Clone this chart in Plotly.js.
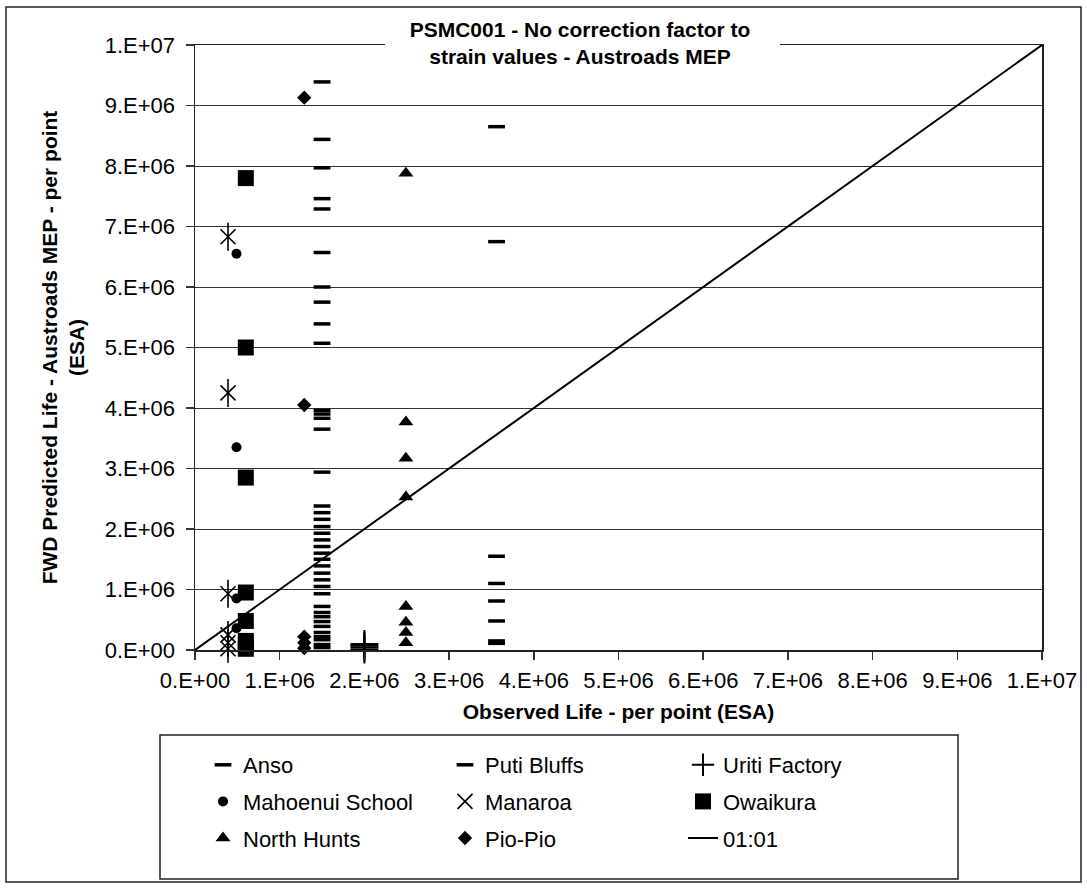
<!DOCTYPE html>
<html>
<head>
<meta charset="utf-8">
<script src="https://cdn.plot.ly/plotly-3.0.1.min.js"></script>
<style>
html,body{margin:0;padding:0;background:#fff;}
#chart{width:1087px;height:888px;}
</style>
</head>
<body>
<div id="chart"></div>
<script>
// ---- data ----
const tickValues = [0,1e6,2e6,3e6,4e6,5e6,6e6,7e6,8e6,9e6,1e7];
const tickLabels = ['0.E+00','1.E+06','2.E+06','3.E+06','4.E+06','5.E+06','6.E+06','7.E+06','8.E+06','9.E+06','1.E+07'];

const ansoX = [1.5e6,1.5e6,1.5e6,1.5e6,1.5e6,1.5e6,1.5e6,1.5e6,1.5e6,1.5e6,1.5e6,1.5e6,1.5e6,1.5e6,1.5e6,1.5e6,1.5e6,1.5e6,1.5e6,1.5e6,1.5e6,1.5e6,1.5e6,1.5e6,1.5e6,1.5e6,1.5e6,1.5e6,1.5e6,1.5e6,1.5e6,1.5e6,1.5e6,1.5e6,1.5e6,1.5e6,1.5e6,1.5e6,1.5e6];
const ansoY = [9.39e6,8.44e6,7.97e6,7.46e6,7.29e6,6.57e6,6.0e6,5.75e6,5.39e6,5.07e6,3.96e6,3.9e6,3.83e6,3.65e6,2.94e6,2.38e6,2.27e6,2.16e6,2.04e6,1.93e6,1.82e6,1.71e6,1.6e6,1.5e6,1.39e6,1.27e6,1.16e6,1.05e6,0.93e6,0.72e6,0.62e6,0.55e6,0.47e6,0.39e6,0.29e6,0.22e6,0.17e6,0.09e6,0.04e6];

const putiX = [3.56e6,3.56e6,3.56e6,3.56e6,3.56e6,3.56e6,3.56e6,3.56e6];
const putiY = [8.65e6,6.75e6,1.55e6,1.1e6,0.81e6,0.48e6,0.15e6,0.11e6];

const uritiX = [2.0e6,2.0e6,2.0e6,2.0e6];
const uritiY = [0.1e6,0.07e6,0.04e6,0.01e6];

const mahoenuiX = [0.49e6,0.49e6,0.49e6,0.49e6];
const mahoenuiY = [6.55e6,3.35e6,0.85e6,0.36e6];

const manaroaX = [0.39e6,0.39e6,0.39e6,0.39e6,0.39e6,0.39e6];
const manaroaY = [6.83e6,4.25e6,0.93e6,0.25e6,0.12e6,0.02e6];

const owaikuraX = [0.6e6,0.6e6,0.6e6,0.6e6,0.6e6,0.6e6,0.6e6,0.6e6];
const owaikuraY = [7.8e6,5.0e6,2.85e6,0.95e6,0.48e6,0.15e6,0.08e6,0.02e6];

const northHuntsX = [2.49e6,2.49e6,2.49e6,2.49e6,2.49e6,2.49e6,2.49e6,2.49e6];
const northHuntsY = [7.88e6,3.77e6,3.17e6,2.53e6,0.72e6,0.46e6,0.29e6,0.12e6];

const pioPioX = [1.29e6,1.29e6,1.29e6,1.29e6,1.29e6];
const pioPioY = [9.13e6,4.05e6,0.22e6,0.12e6,0.03e6];

const oneToOneX = [0,1e7];
const oneToOneY = [0,1e7];

// ---- traces ----
const FONT = 'Liberation Sans, Arial, sans-serif';
const K = '#000';
function pts(name, x, y, marker, legendId, extra) {
  return Object.assign({type:'scatter', mode:'markers', name:name, x:x, y:y, marker:marker,
    cliponaxis:false, legend:legendId, legendgroup:name}, extra||{});
}
const dashMarker = {symbol:'line-ew', size:12, color:K, line:{color:K, width:3.5}};
const traces = [
  // legend column 1
  pts('Anso', ansoX, ansoY, dashMarker, 'legend'),
  pts('Mahoenui School', mahoenuiX, mahoenuiY, {symbol:'circle', size:10, color:K, line:{width:0}}, 'legend'),
  pts('North Hunts', northHuntsX, northHuntsY, {symbol:'triangle-up', size:13, color:K, line:{width:0}}, 'legend'),
  // legend column 2
  pts('Puti Bluffs', putiX, putiY, dashMarker, 'legend2'),
  pts('Manaroa', manaroaX, manaroaY, {symbol:'x-thin', size:15, color:K, line:{color:K, width:1.6}}, 'legend2'),
  pts('Pio-Pio', pioPioX, pioPioY, {symbol:'diamond', size:11, color:K, line:{width:0}}, 'legend2'),
  // legend column 3
  pts('Uriti Factory', uritiX, uritiY, {symbol:'cross-thin', size:20, color:K, line:{color:K, width:2}}, 'legend3'),
  pts('Owaikura', owaikuraX, owaikuraY, {symbol:'square', size:16, color:K, line:{width:0}}, 'legend3'),
  {type:'scatter', mode:'lines', name:'01:01', x:oneToOneX, y:oneToOneY, line:{color:K, width:2},
   legend:'legend3', legendgroup:'01:01'},
  // vertical stroke of the Manaroa asterisk
  pts('Manaroa', manaroaX, manaroaY, {symbol:'line-ns', size:20, color:K, line:{color:K, width:1.6}}, 'legend2', {showlegend:false})
];

// ---- layout ----
const L = 195, R = 45, T = 45, B = 238;
const W = 1087, H = 888;
const pw = W - L - R, ph = H - T - B;
const px2x = p => (p - L) / pw;
const py2y = p => (H - B - p) / ph;

const axisCommon = {
  range:[0,1e7], tickmode:'array', tickvals:tickValues, ticktext:tickLabels,
  ticks:'outside', ticklen:8, tickcolor:'#333', tickwidth:1.5,
  showline:true, linecolor:'#222', linewidth:1.5, mirror:true,
  zeroline:false, automargin:false,
  tickfont:{family:FONT, size:22, color:K}
};

function legendCol(xText) {
  return {
    orientation:'v', x:px2x(xText - 42), xanchor:'left', y:py2y(744), yanchor:'top',
    borderwidth:0, bgcolor:'rgba(0,0,0,0)', traceorder:'grouped', tracegroupgap:5,
    font:{family:FONT, size:22, color:K}
  };
}

const layout = {
  width:W, height:H,
  margin:{l:L, r:R, t:T, b:B},
  paper_bgcolor:'#fff', plot_bgcolor:'#fff',
  font:{family:FONT, color:K},
  showlegend:true,
  title:{
    text:'<b>PSMC001 - No correction factor to<br>strain values - Austroads MEP</b>',
    font:{family:FONT, size:21, color:K},
    xref:'paper', x:px2x(580), xanchor:'center',
    yref:'container', y:1 - 37/H, yanchor:'middle'
  },
  xaxis:Object.assign({}, axisCommon, {
    showgrid:false, ticklabelstandoff:2,
    title:{text:'<b>Observed Life - per point (ESA)</b>', font:{family:FONT, size:21, color:K}, standoff:12}
  }),
  yaxis:Object.assign({}, axisCommon, {
    showgrid:true, gridcolor:'#333', gridwidth:1, ticklabelstandoff:6,
    title:{text:'<b>FWD Predicted Life - Austroads MEP - per point<br>(ESA)</b>', font:{family:FONT, size:21, color:K}, standoff:14}
  }),
  legend:legendCol(245),
  legend2:legendCol(487),
  legend3:legendCol(725),
  shapes:[
    // outer chart border
    {type:'rect', xref:'paper', yref:'paper', x0:px2x(6), x1:px2x(1081), y0:py2y(882), y1:py2y(7),
     line:{color:'#222', width:1.5}, fillcolor:'rgba(0,0,0,0)', layer:'below'},
    // legend frame
    {type:'rect', xref:'paper', yref:'paper', x0:px2x(160), x1:px2x(958), y0:py2y(879), y1:py2y(735),
     line:{color:'#222', width:1.5}, fillcolor:'rgba(0,0,0,0)', layer:'below'},
    // white box behind the title
    {type:'rect', xref:'paper', yref:'paper', x0:px2x(385), x1:px2x(780), y0:py2y(70), y1:py2y(12),
     line:{width:0}, fillcolor:'#fff', layer:'above'}
  ]
};

Plotly.newPlot('chart', traces, layout, {displayModeBar:false, staticPlot:true});
</script>
</body>
</html>
